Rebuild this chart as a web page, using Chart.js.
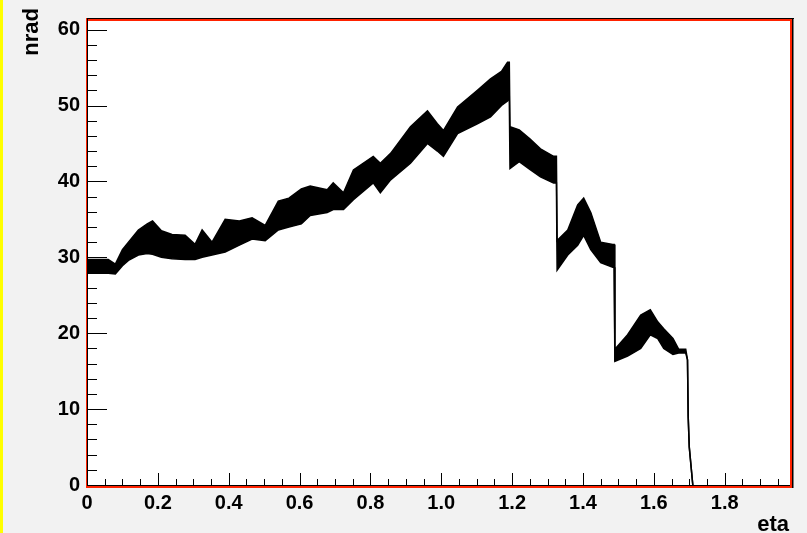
<!DOCTYPE html>
<html>
<head>
<meta charset="utf-8">
<script src="https://cdn.jsdelivr.net/npm/chart.js@4.4.1/dist/chart.umd.min.js"></script>
<style>
  html, body { margin: 0; padding: 0; background: #f2f2f2; }
  #wrap { width: 807px; height: 533px; }
</style>
</head>
<body>
<div id="wrap"><canvas id="c" width="807" height="533"></canvas></div>
<script>
// envelope of the overlapping nrad(eta) traces
const eta = [
  0.000, 0.060, 0.080, 0.100, 0.117, 0.145, 0.170, 0.185, 0.210, 0.240,
  0.277, 0.305, 0.325, 0.353, 0.390, 0.430, 0.466, 0.503, 0.540, 0.570,
  0.605, 0.630, 0.678, 0.695, 0.724, 0.752, 0.808, 0.828, 0.857, 0.913,
  0.961, 0.989, 1.006, 1.046, 1.102, 1.139, 1.170, 1.187, 1.192, 1.194,
  1.220, 1.250, 1.280, 1.317, 1.325, 1.327, 1.357, 1.385, 1.402, 1.422,
  1.450, 1.484, 1.488, 1.490, 1.526, 1.563, 1.590, 1.611, 1.628, 1.654,
  1.670, 1.690, 1.695, 1.697, 1.700, 1.710
];
const nradHigh = [
  29.7, 29.7, 29.1, 31.0, 32.0, 33.6, 34.4, 34.8, 33.5, 33.0,
  32.9, 31.7, 33.6, 32.0, 35.0, 34.8, 35.2, 34.2, 37.4, 37.8,
  39.0, 39.4, 38.9, 39.8, 38.5, 41.5, 43.3, 42.4, 43.7, 47.2,
  49.3, 47.6, 46.7, 49.8, 52.0, 53.5, 54.5, 55.7, 55.7, 47.2,
  46.8, 45.6, 44.3, 43.3, 43.3, 32.2, 33.6, 36.9, 37.8, 35.9,
  32.0, 31.7, 31.7, 17.9, 19.8, 22.4, 23.1, 21.5, 20.6, 19.3,
  17.9, 17.9, 16.5, 9.0, 5.0, 0.0
];
const nradLow = [
  27.9, 27.9, 27.8, 28.9, 29.6, 30.3, 30.5, 30.4, 30.0, 29.8,
  29.7, 29.7, 30.0, 30.3, 30.7, 31.6, 32.4, 32.2, 33.6, 34.0,
  34.4, 35.5, 35.9, 36.3, 36.3, 37.6, 39.8, 38.5, 40.2, 42.4,
  45.0, 44.0, 43.3, 46.3, 47.6, 48.5, 50.0, 50.6, 51.0, 41.7,
  42.6, 41.6, 40.6, 39.8, 39.8, 28.3, 30.3, 31.6, 32.9, 31.0,
  29.3, 28.7, 28.7, 16.3, 17.0, 18.0, 19.8, 19.3, 18.0, 17.2,
  17.4, 17.4, 16.5, 9.0, 5.0, 0.0
];
const xTicks = [0, 0.2, 0.4, 0.6, 0.8, 1, 1.2, 1.4, 1.6, 1.8];
const yTicks = [0, 10, 20, 30, 40, 50, 60];
const xMax = 1.99, yMax = 61.4;

const labelFont = { family: "Liberation Sans", size: 20, weight: "bold" };

const rootFrame = {
  id: "rootFrame",
  beforeDraw(chart) {
    const { ctx, chartArea: a } = chart;
    ctx.save();
    ctx.fillStyle = "#f2f2f2";
    ctx.fillRect(0, 0, chart.width, chart.height);
    ctx.fillStyle = "#ffff00";
    ctx.fillRect(0, 0, 3, chart.height);
    ctx.fillStyle = "#ffffff";
    ctx.fillRect(a.left, a.top, a.right - a.left, a.bottom - a.top);
    ctx.restore();
  },
  afterDraw(chart) {
    const { ctx, chartArea: a } = chart;
    const xs = chart.scales.x, ys = chart.scales.y;
    ctx.save();
    // red frame
    ctx.fillStyle = "#ff2200";
    ctx.fillRect(a.left - 1, a.top - 1, 1, a.bottom - a.top + 3);
    ctx.fillRect(a.left, a.top, a.right - a.left, 2);
    ctx.fillRect(a.right - 2, a.top, 2, a.bottom - a.top + 2);
    ctx.fillRect(a.left - 1, a.bottom + 1, a.right - a.left + 1, 2);
    // black axis lines / shadow
    ctx.fillStyle = "#000";
    ctx.fillRect(a.left, a.top, 1, a.bottom - a.top + 1);
    ctx.fillRect(a.left, a.bottom, a.right - a.left - 2, 1);
    ctx.fillRect(a.left, a.top - 1, a.right - a.left + 2, 1);
    ctx.fillRect(a.right, a.top - 1, 1.5, a.bottom - a.top + 4);

    // ticks on the inside
    ctx.strokeStyle = "#000";
    ctx.lineWidth = 1;
    ctx.beginPath();
    for (let i = 0; i * 0.05 <= xMax + 1e-9; i++) {
      const px = Math.round(xs.getPixelForValue(i * 0.05)) + 0.5;
      const len = i % 4 === 0 ? 12 : 6;
      ctx.moveTo(px, a.bottom);
      ctx.lineTo(px, a.bottom - len);
    }
    for (let i = 0; i * 2 <= yMax + 1e-9; i++) {
      const py = Math.round(ys.getPixelForValue(i * 2)) + 0.5;
      const len = i % 5 === 0 ? 20 : 10;
      ctx.moveTo(a.left, py);
      ctx.lineTo(a.left + len, py);
    }
    ctx.stroke();

    // axis titles
    ctx.fillStyle = "#000";
    ctx.font = "bold 22px 'Liberation Sans'";
    ctx.textAlign = "right";
    ctx.textBaseline = "alphabetic";
    ctx.fillText("eta", 789, 531);
    ctx.translate(38, 8);
    ctx.rotate(-Math.PI / 2);
    ctx.fillText("nrad", 0, 0);
    ctx.restore();
  }
};

const highPts = eta.map((x, i) => ({ x, y: nradHigh[i] }));
const lowPts = eta.map((x, i) => ({ x, y: nradLow[i] }));

new Chart(document.getElementById("c"), {
  type: "line",
  data: {
    datasets: [
      { label: "high", data: highPts, borderColor: "#000", backgroundColor: "#000",
        borderWidth: 1.5, pointRadius: 0, tension: 0, fill: "+1" },
      { label: "low", data: lowPts, borderColor: "#000",
        borderWidth: 1.5, pointRadius: 0, tension: 0, fill: false }
    ]
  },
  options: {
    responsive: false,
    animation: false,
    devicePixelRatio: 1,
    layout: { padding: { left: 0, top: 15, right: 15, bottom: 0 } },
    plugins: { legend: { display: false }, tooltip: { enabled: false } },
    scales: {
      x: {
        type: "linear", min: 0, max: xMax,
        grid: { display: false, drawTicks: false },
        border: { display: false },
        afterBuildTicks: s => { s.ticks = xTicks.map(v => ({ value: v })); },
        afterFit: s => { s.height = 48; },
        ticks: { autoSkip: false, maxRotation: 0, padding: 6, color: "#000", font: labelFont }
      },
      y: {
        type: "linear", min: 0, max: yMax,
        grid: { display: false, drawTicks: false },
        border: { display: false },
        afterBuildTicks: s => { s.ticks = yTicks.map(v => ({ value: v })); },
        afterFit: s => { s.width = 87; },
        ticks: { padding: 7, color: "#000", font: labelFont }
      }
    }
  },
  plugins: [rootFrame]
});
</script>
</body>
</html>
